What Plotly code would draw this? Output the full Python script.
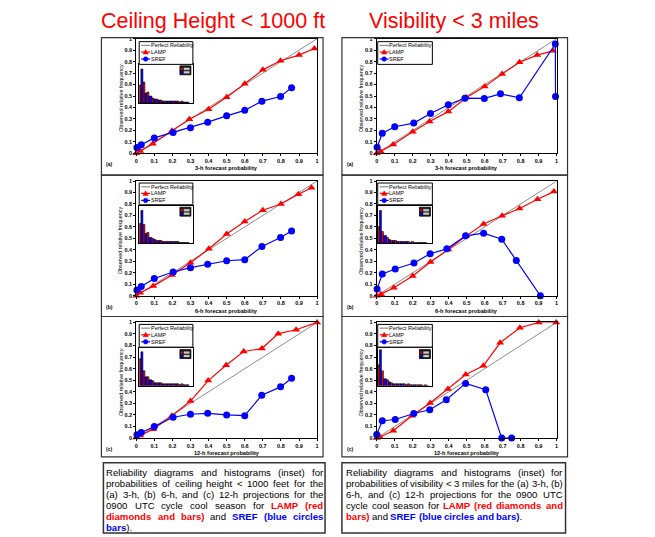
import re
import plotly.graph_objects as go

# ---------------- data ----------------
prob_tickvals = [0, 0.1, 0.2, 0.3, 0.4, 0.5, 0.6, 0.7, 0.8, 0.9, 1]
prob_ticktext = ["0", "0.1", "0.2", "0.3", "0.4", "0.5", "0.6", "0.7", "0.8", "0.9", "1"]
perfect_x = [0, 1]
perfect_y = [0, 1]
hist_bins = ["0", "0.03", "0.1", "0.2", "0.3", "0.4", "0.5", "0.6", "0.7", "0.8", "0.9", "1"]

ceil_3h_lamp_x = [0.0, 0.022, 0.092, 0.198, 0.294, 0.40, 0.50, 0.60, 0.70, 0.798, 0.90, 0.985]
ceil_3h_lamp_y = [0.0, 0.02, 0.083, 0.198, 0.298, 0.384, 0.49, 0.607, 0.728, 0.808, 0.857, 0.914]
ceil_3h_sref_x = [0.004, 0.028, 0.10, 0.204, 0.30, 0.395, 0.50, 0.60, 0.695, 0.798, 0.859]
ceil_3h_sref_y = [0.052, 0.075, 0.135, 0.183, 0.223, 0.272, 0.327, 0.375, 0.455, 0.496, 0.573]

ceil_6h_lamp_x = [0.0, 0.022, 0.094, 0.198, 0.30, 0.402, 0.50, 0.60, 0.70, 0.80, 0.897, 0.969]
ceil_6h_lamp_y = [0.0, 0.026, 0.084, 0.18, 0.288, 0.409, 0.539, 0.648, 0.746, 0.80, 0.885, 0.942]
ceil_6h_sref_x = [0.004, 0.028, 0.10, 0.204, 0.30, 0.395, 0.50, 0.60, 0.695, 0.798, 0.859]
ceil_6h_sref_y = [0.049, 0.081, 0.15, 0.207, 0.245, 0.274, 0.305, 0.314, 0.429, 0.507, 0.565]

ceil_12h_lamp_x = [0.0, 0.022, 0.094, 0.198, 0.30, 0.398, 0.497, 0.594, 0.695, 0.785, 0.884, 1.0]
ceil_12h_lamp_y = [0.006, 0.023, 0.077, 0.194, 0.32, 0.497, 0.629, 0.749, 0.774, 0.903, 0.937, 1.0]
ceil_12h_sref_x = [0.004, 0.028, 0.10, 0.204, 0.30, 0.395, 0.50, 0.60, 0.694, 0.798, 0.859]
ceil_12h_sref_y = [0.029, 0.049, 0.10, 0.18, 0.206, 0.214, 0.20, 0.194, 0.371, 0.443, 0.517]

vis_3h_lamp_x = [0.0, 0.022, 0.092, 0.20, 0.294, 0.398, 0.499, 0.60, 0.697, 0.794, 0.892, 0.98]
vis_3h_lamp_y = [0.0, 0.017, 0.077, 0.189, 0.278, 0.364, 0.487, 0.582, 0.693, 0.794, 0.857, 0.894]
vis_3h_sref_x = [0.002, 0.031, 0.10, 0.206, 0.299, 0.398, 0.49, 0.598, 0.688, 0.793, 0.993, 0.994]
vis_3h_sref_y = [0.054, 0.175, 0.232, 0.264, 0.347, 0.424, 0.481, 0.479, 0.519, 0.484, 0.954, 0.496]

vis_6h_lamp_x = [0.0, 0.024, 0.095, 0.20, 0.299, 0.398, 0.497, 0.594, 0.697, 0.794, 0.894, 0.985]
vis_6h_lamp_y = [0.0, 0.014, 0.069, 0.173, 0.294, 0.403, 0.522, 0.625, 0.697, 0.761, 0.841, 0.908]
vis_6h_sref_x = [0.002, 0.031, 0.103, 0.207, 0.297, 0.39, 0.494, 0.594, 0.695, 0.776, 0.91]
vis_6h_sref_y = [0.058, 0.19, 0.233, 0.285, 0.366, 0.409, 0.522, 0.545, 0.493, 0.308, 0.0]

vis_12h_lamp_x = [0.0, 0.018, 0.092, 0.196, 0.297, 0.396, 0.495, 0.593, 0.686, 0.796, 0.901, 0.998]
vis_12h_lamp_y = [0.0, 0.009, 0.063, 0.193, 0.303, 0.424, 0.55, 0.625, 0.824, 0.954, 1.0, 1.0]
vis_12h_sref_x = [0.0, 0.031, 0.103, 0.206, 0.295, 0.387, 0.494, 0.606, 0.695, 0.75]
vis_12h_sref_y = [0.032, 0.15, 0.161, 0.213, 0.245, 0.331, 0.473, 0.418, 0.0, 0.0]

# inset histograms (relative frequency of forecasts per probability bin)
ceil_3h_lamp_hist = [0.46, 0.54, 0.28, 0.12, 0.08, 0.06, 0.05, 0.04, 0.04, 0.03, 0.03, 0.02]
ceil_3h_sref_hist = [0.86, 0.26, 0.16, 0.10, 0.07, 0.05, 0.04, 0.04, 0.03, 0.02, 0.02, 0.01]
ceil_6h_lamp_hist = [0.52, 0.50, 0.28, 0.12, 0.08, 0.06, 0.05, 0.04, 0.04, 0.03, 0.02, 0.02]
ceil_6h_sref_hist = [0.87, 0.25, 0.15, 0.09, 0.07, 0.05, 0.04, 0.03, 0.03, 0.02, 0.02, 0.01]
ceil_12h_lamp_hist = [0.70, 0.40, 0.22, 0.12, 0.08, 0.06, 0.05, 0.04, 0.04, 0.03, 0.03, 0.02]
ceil_12h_sref_hist = [0.90, 0.22, 0.14, 0.08, 0.06, 0.05, 0.04, 0.03, 0.03, 0.02, 0.02, 0.01]
vis_6h_lamp_hist = [0.45, 0.30, 0.15, 0.08, 0.06, 0.05, 0.04, 0.03, 0.03, 0.02, 0.02, 0.01]
vis_6h_sref_hist = [0.87, 0.20, 0.10, 0.06, 0.05, 0.04, 0.03, 0.02, 0.02, 0.01, 0.01, 0.0]
vis_12h_lamp_hist = [0.55, 0.38, 0.14, 0.08, 0.05, 0.04, 0.03, 0.03, 0.02, 0.02, 0.01, 0.01]
vis_12h_sref_hist = [0.95, 0.18, 0.10, 0.05, 0.04, 0.03, 0.02, 0.02, 0.01, 0.01, 0.0, 0.0]

titles = ["Ceiling Height < 1000 ft", "Visibility < 3 miles"]
legend_names = ["Perfect Reliability", "LAMP", "SREF"]

caption_left = [
    "Reliability diagrams and histograms (inset) for",
    "probabilities of ceiling height < 1000 feet for the",
    "(a) 3-h, (b) 6-h, and (c) 12-h projections for the",
    "0900 UTC cycle cool season for {r:LAMP} {r:(red}",
    "{r:diamonds} {r:and} {r:bars)} and {b:SREF} {b:(blue} {b:circles}",
    "{b:bars}).",
]
caption_right = [
    "Reliability diagrams and histograms (inset) for",
    "probabilities of visibility < 3 miles for the (a) 3-h, (b)",
    "6-h, and (c) 12-h projections for the 0900 UTC",
    "cycle cool season for {r:LAMP} {r:(red} {r:diamonds} {r:and}",
    "{r:bars)} and {b:SREF} {b:(blue} {b:circles} {b:and} {b:bars)}.",
]

# ---------------- layout helpers ----------------
# page body has an 8px margin, so the figure starts at (8, 8) of the window
OFF = 8
W, H = 655 - OFF, 537 - OFF
FONT = "Liberation Sans, Arial, sans-serif"
RED, BLUE, GRAY = "#ff0000", "#0000ff", "#8c8c8c"


def px(x):
    return (x - OFF) / W


def py(y):
    return 1 - (y - OFF) / H


LX, RX = (135, 317), (377, 558)
ROWS = [(36, 152), (180, 296), (323, 440)]
LEG_L, LEG_R = (138, 192), (378, 433)
LEG_ROWS = [(39, 62), (182, 204), (325, 348)]
INS_ROWS = [(62, 101), (205, 243), (349, 387)]
FRAME_L, FRAME_R = (100, 323), (342, 569)
FRAME_ROWS = [(35, 174), (174, 317), (317, 459)]

panels = [
    dict(lamp=(ceil_3h_lamp_x, ceil_3h_lamp_y), sref=(ceil_3h_sref_x, ceil_3h_sref_y),
         hist=(ceil_3h_lamp_hist, ceil_3h_sref_hist), xt="3-h forecast probability", lab="(a)", col=0, row=0),
    dict(lamp=(ceil_6h_lamp_x, ceil_6h_lamp_y), sref=(ceil_6h_sref_x, ceil_6h_sref_y),
         hist=(ceil_6h_lamp_hist, ceil_6h_sref_hist), xt="6-h forecast probability", lab="(b)", col=0, row=1),
    dict(lamp=(ceil_12h_lamp_x, ceil_12h_lamp_y), sref=(ceil_12h_sref_x, ceil_12h_sref_y),
         hist=(ceil_12h_lamp_hist, ceil_12h_sref_hist), xt="12-h forecast probability", lab="(c)", col=0, row=2),
    dict(lamp=(vis_3h_lamp_x, vis_3h_lamp_y), sref=(vis_3h_sref_x, vis_3h_sref_y),
         hist=None, xt="3-h forecast probability", lab="(a)", col=1, row=0),
    dict(lamp=(vis_6h_lamp_x, vis_6h_lamp_y), sref=(vis_6h_sref_x, vis_6h_sref_y),
         hist=(vis_6h_lamp_hist, vis_6h_sref_hist), xt="6-h forecast probability", lab="(b)", col=1, row=1),
    dict(lamp=(vis_12h_lamp_x, vis_12h_lamp_y), sref=(vis_12h_sref_x, vis_12h_sref_y),
         hist=(vis_12h_lamp_hist, vis_12h_sref_hist), xt="12-h forecast probability", lab="(c)", col=1, row=2),
]

fig = go.Figure()
layout = dict(
    width=W, height=H, margin=dict(l=0, r=0, t=0, b=0),
    paper_bgcolor="white", plot_bgcolor="white", showlegend=False,
    barmode="group", bargap=0, bargroupgap=0,
    font=dict(family=FONT, color="black"),
)
shapes, annos = [], []


def line(x0, y0, x1, y1, color="black", width=1):
    shapes.append(dict(type="line", xref="paper", yref="paper", x0=px(x0), y0=py(y0),
                       x1=px(x1), y1=py(y1), line=dict(color=color, width=width)))


def rect(x0, y0, x1, y1, color="black", width=1, fill=None):
    shapes.append(dict(type="rect", xref="paper", yref="paper", x0=px(x0), y0=py(y0),
                       x1=px(x1), y1=py(y1), line=dict(color=color, width=width),
                       fillcolor=fill if fill else "rgba(0,0,0,0)"))


def text(x, y, s, size, color="black", xanchor="center", yanchor="middle", angle=0):
    annos.append(dict(xref="paper", yref="paper", x=px(x), y=py(y), text=s, showarrow=False,
                      font=dict(size=size, color=color, family=FONT), xanchor=xanchor,
                      yanchor=yanchor, textangle=angle, borderpad=0, borderwidth=0))


ax_n = 0
for p in panels:
    ax_n += 1
    xr = LX if p["col"] == 0 else RX
    yr = ROWS[p["row"]]
    xa, ya = f"x{ax_n}", f"y{ax_n}"
    common = dict(showline=True, mirror=True, linecolor="black", linewidth=1, showgrid=False,
                  zeroline=False, ticks="outside", ticklen=2, tickwidth=1, tickcolor="black",
                  tickvals=prob_tickvals, ticktext=prob_ticktext, range=[0, 1],
                  tickfont=dict(size=5.5, family=FONT, weight="bold"))
    layout[f"xaxis{ax_n}"] = dict(domain=[px(xr[0]), px(xr[1])], anchor=ya, **common)
    layout[f"yaxis{ax_n}"] = dict(domain=[py(yr[1]), py(yr[0])], anchor=xa, ticklabelstandoff=0, **common)
    fig.add_trace(go.Scatter(x=perfect_x, y=perfect_y, mode="lines", xaxis=xa, yaxis=ya,
                             line=dict(color=GRAY, width=1), name=legend_names[0], cliponaxis=False))
    fig.add_trace(go.Scatter(x=p["lamp"][0], y=p["lamp"][1], mode="lines+markers", xaxis=xa, yaxis=ya,
                             line=dict(color=RED, width=1.2), name=legend_names[1], cliponaxis=False,
                             marker=dict(symbol="triangle-up", size=7, color=RED)))
    fig.add_trace(go.Scatter(x=p["sref"][0], y=p["sref"][1], mode="lines+markers", xaxis=xa, yaxis=ya,
                             line=dict(color=BLUE, width=1.2), name=legend_names[2], cliponaxis=False,
                             marker=dict(symbol="circle", size=7, color=BLUE)))

    # frame
    fx = FRAME_L if p["col"] == 0 else FRAME_R
    fy = FRAME_ROWS[p["row"]]
    rect(fx[0], fy[0], fx[1], fy[1], color="#333333", width=1.2)

    # axis titles & panel label
    text((xr[0] + xr[1]) / 2, yr[1] + 15, "<b>" + p["xt"] + "</b>", 5.6)
    text(xr[0] - 15.5, (yr[0] + yr[1]) / 2 + 2, "Observed relative frequency", 5.4, angle=-90)
    text(fx[0] + 5, yr[1] + 11, "<b>" + p["lab"] + "</b>", 5, xanchor="left")

    # legend box
    lx = LEG_L if p["col"] == 0 else LEG_R
    ly = LEG_ROWS[p["row"]]
    rect(lx[0], ly[0], lx[1], ly[1], color="black", width=1, fill="white")
    offs = [3.8, 10.5, 17.6]
    cols = [GRAY, RED, BLUE]
    for k in range(3):
        yy = ly[0] + offs[k]
        line(lx[0] + 2, yy, lx[0] + 11, yy, color=cols[k], width=1.2)
        text(lx[0] + 11.5, yy, legend_names[k], 5.5, color="black", xanchor="left")
    cx, cy = lx[0] + 6.5, ly[0] + offs[1]
    shapes.append(dict(type="path", xref="paper", yref="paper",
                       path=f"M {px(cx-2.6)},{py(cy+2)} L {px(cx+2.6)},{py(cy+2)} L {px(cx)},{py(cy-2.6)} Z",
                       fillcolor=RED, line=dict(color=RED, width=0.5)))
    cy = ly[0] + offs[2]
    shapes.append(dict(type="circle", xref="paper", yref="paper", x0=px(cx - 2.3), x1=px(cx + 2.3),
                       y0=py(cy + 2.3), y1=py(cy - 2.3), fillcolor=BLUE, line=dict(color=BLUE, width=0.5)))

    # inset histogram
    if p["hist"] is not None:
        ax_i = ax_n + 6
        iy = INS_ROWS[p["row"]]
        xa2, ya2 = f"x{ax_i}", f"y{ax_i}"
        layout[f"xaxis{ax_i}"] = dict(domain=[px(lx[0]), px(lx[1])], anchor=ya2, type="category",
                                      range=[-0.5, 12.3], showline=True, mirror=True, linecolor="black",
                                      linewidth=1, showticklabels=False, ticks="", showgrid=False)
        layout[f"yaxis{ax_i}"] = dict(domain=[py(iy[1]), py(iy[0])], anchor=xa2, range=[0, 1],
                                      showline=True, mirror=True, linecolor="black", linewidth=1,
                                      showticklabels=False, ticks="", showgrid=False, zeroline=False)
        fig.add_trace(go.Bar(x=hist_bins, y=p["hist"][0], xaxis=xa2, yaxis=ya2, name="LAMP",
                             marker=dict(color=RED, line=dict(color="black", width=0.6))))
        fig.add_trace(go.Bar(x=hist_bins, y=p["hist"][1], xaxis=xa2, yaxis=ya2, name="SREF",
                             marker=dict(color=BLUE, line=dict(color="black", width=0.6))))
        # mini legend of inset
        mx1, my0 = lx[1] - 2, iy[0] + 1.5
        rect(mx1 - 11, my0, mx1, my0 + 9, color="black", width=0.8, fill="#1a1a1a")
        rect(mx1 - 7, my0 + 2, mx1 - 1.5, my0 + 4, color="#cccccc", width=0.3, fill="#cccccc")
        rect(mx1 - 7, my0 + 5.5, mx1 - 1.5, my0 + 7.5, color="#cccccc", width=0.3, fill="#cccccc")
        rect(mx1 - 10, my0 + 2, mx1 - 8.5, my0 + 4, color=RED, width=0.3, fill=RED)
        rect(mx1 - 10, my0 + 5.5, mx1 - 8.5, my0 + 7.5, color=BLUE, width=0.3, fill=BLUE)

# titles
text(212.5, 18, titles[0], 21.5, color=RED)
text(454.5, 18, titles[1], 21.5, color=RED)

# ---------------- captions (justified) ----------------
REG = dict(zip("abcdefghijklmnopqrstuvwxyz",
               [556, 556, 500, 556, 556, 278, 556, 556, 222, 222, 500, 222, 833, 556, 556, 556, 556, 333, 500,
                278, 556, 500, 722, 500, 500, 500]))
REG.update(dict(zip("ABCDEFGHIJKLMNOPQRSTUVWXYZ",
                    [667, 667, 722, 722, 667, 611, 778, 722, 278, 500, 667, 556, 833, 722, 778, 667, 778, 722,
                     667, 611, 722, 667, 944, 667, 667, 611])))
REG.update({c: 556 for c in "0123456789"})
REG.update({" ": 278, "(": 333, ")": 333, ",": 278, ".": 278, "-": 333, "<": 584})
BOLD = dict(zip("abcdefghijklmnopqrstuvwxyz",
                [556, 611, 556, 611, 556, 333, 611, 611, 278, 278, 556, 278, 889, 611, 611, 611, 611, 389, 556,
                 333, 611, 556, 778, 556, 556, 500]))
BOLD.update(dict(zip("ABCDEFGHIJKLMNOPQRSTUVWXYZ",
                     [722, 722, 722, 722, 667, 611, 778, 722, 278, 556, 722, 611, 833, 722, 778, 667, 778, 722,
                      667, 611, 722, 667, 944, 667, 667, 611])))
BOLD.update({" ": 278, "(": 333, ")": 333, ",": 278, ".": 278, "-": 333})

SEG = re.compile(r"\{([rb]):([^}]*)\}|([^{]+)")


def esc(s):
    return s.replace("&", "&amp;").replace("<", "&lt;").replace(">", "&gt;")


def word_info(w, fs):
    width, html = 0.0, ""
    for m in SEG.finditer(w):
        if m.group(1):
            t, c = m.group(2), (RED if m.group(1) == "r" else BLUE)
            width += sum(BOLD.get(ch, 611) for ch in t) / 1000 * fs
            html += f'<b><span style="color:{c}">{esc(t)}</span></b>'
        else:
            t = m.group(3)
            width += sum(REG.get(ch, 556) for ch in t) / 1000 * fs
            html += esc(t)
    return width, html


def caption(lines, x0, x1, y0, dy, fs):
    for i, ln in enumerate(lines):
        words = ln.split(" ")
        infos = [word_info(w, fs) for w in words]
        total = sum(w for w, _ in infos)
        last = i == len(lines) - 1
        gap = 0.278 * fs if (last or len(words) < 2) else (x1 - x0 - total) / (len(words) - 1)
        x = x0
        for wdt, html in infos:
            text(x, y0 + i * dy, html, fs, xanchor="left")
            x += wdt + gap


rect(102, 465, 325, 536, color="#333333", width=1.5)
rect(342, 465, 567, 536, color="#333333", width=1.5)
caption(caption_left, 105, 323, 475, 11.1, 9.6)
caption(caption_right, 346, 564, 475, 11.1, 9.6)

layout["shapes"] = shapes
layout["annotations"] = annos
fig.update_layout(**layout)
fig.write_html("out.html")
